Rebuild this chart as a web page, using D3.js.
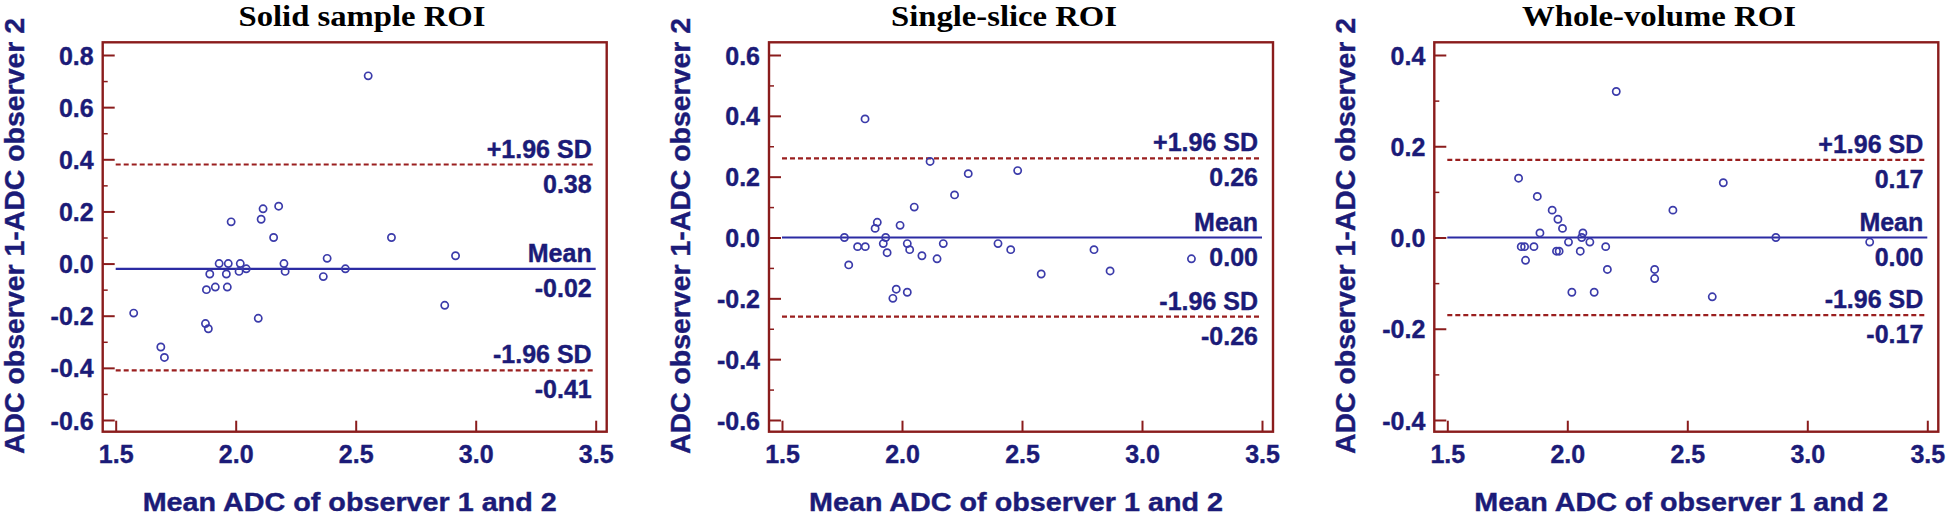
<!DOCTYPE html>
<html>
<head>
<meta charset="utf-8">
<script src="https://cdn.jsdelivr.net/npm/d3@7"></script>
<style>
  html, body { margin: 0; padding: 0; background: #fff; }
  svg { display: block; }
</style>
</head>
<body>
<svg id="chart" width="1946" height="517"></svg>
<script>
// ---------------- DATA ----------------
const titles = ["Solid sample ROI", "Single-slice ROI", "Whole-volume ROI"];
const xAxisTitle = "Mean ADC of observer 1 and 2";
const yAxisTitle = "ADC observer 1-ADC observer 2";
const xTicks = [1.5, 2.0, 2.5, 3.0, 3.5];

const yTicksSolid = [-0.6, -0.4, -0.2, 0.0, 0.2, 0.4, 0.6, 0.8];
const yMinorSolid = [-0.5, -0.3, -0.1, 0.1, 0.3, 0.5, 0.7];
const yTicksSlice = [-0.6, -0.4, -0.2, 0.0, 0.2, 0.4, 0.6];
const yMinorSlice = [-0.5, -0.3, -0.1, 0.1, 0.3, 0.5];
const yTicksWhole = [-0.4, -0.2, 0.0, 0.2, 0.4];
const yMinorWhole = [-0.3, -0.1, 0.1, 0.3];

const solidX = [1.575, 1.688, 1.703, 1.874, 1.886, 1.878, 1.915, 1.892, 1.931, 1.969,
                1.961, 1.965, 2.019, 2.014, 2.044, 1.981, 2.094, 2.106, 2.114, 2.179,
                2.158, 2.201, 2.206, 2.365, 2.381, 2.457, 2.552, 2.649, 2.871, 2.916];
const solidY = [-0.19, -0.32, -0.36, -0.23, -0.25, -0.10, -0.09, -0.04, 0.00, 0.00,
                -0.04, -0.09, 0.00, -0.03, -0.02, 0.16, -0.21, 0.17, 0.21, 0.22,
                0.10, 0.00, -0.03, -0.05, 0.02, -0.02, 0.72, 0.10, -0.16, 0.03];

const sliceX = [1.760, 1.778, 1.815, 1.847, 1.846, 1.888, 1.897, 1.922, 1.932, 1.938,
                1.962, 1.976, 1.992, 2.022, 2.022, 2.032, 2.051, 2.083, 2.117, 2.146,
                2.172, 2.219, 2.276, 2.400, 2.453, 2.482, 2.580, 2.800, 2.867, 3.206];
const sliceY = [0.00, -0.09, -0.03, -0.03, 0.39, 0.03, 0.05, -0.02, 0.00, -0.05,
                -0.20, -0.17, 0.04, -0.02, -0.18, -0.04, 0.10, -0.06, 0.25, -0.07,
                -0.02, 0.14, 0.21, -0.02, -0.04, 0.22, -0.12, -0.04, -0.11, -0.07];

const wholeX = [1.797, 1.808, 1.822, 1.826, 1.861, 1.875, 1.886, 1.937, 1.955, 1.961,
                1.966, 1.980, 2.005, 2.019, 2.054, 2.060, 2.065, 2.094, 2.112, 2.160,
                2.167, 2.204, 2.364, 2.364, 2.440, 2.604, 2.650, 2.869, 3.260];
const wholeY = [0.13, -0.02, -0.02, -0.05, -0.02, 0.09, 0.01, 0.06, -0.03, 0.04,
                -0.03, 0.02, -0.01, -0.12, -0.03, 0.00, 0.01, -0.01, -0.12, -0.02,
                -0.07, 0.32, -0.07, -0.09, 0.06, -0.13, 0.12, 0.00, -0.01];

const meanValues = [-0.02, 0.00, 0.00];
const upperLoA = [0.38, 0.26, 0.17];
const lowerLoA = [-0.41, -0.26, -0.17];
const upperLabel = "+1.96 SD", meanLabel = "Mean", lowerLabel = "-1.96 SD";

// ---------------- LAYOUT ----------------
const frameLefts = [102.7, 769, 1434.3];
const frameW = 504, frameTop = 42.3, frameBottom = 431.7;
const titleCenters = [362, 1004, 1659];
const titleWidths = [247, 226, 274];

const NAVY = "#1b1b78";
const FRAME = "#8a1c1c";
const DASH = "#9a1f1f";
const MEANC = "#2b2ba3";
const PT = "#3b3baa";
const SANS = "'Liberation Sans', Arial, Helvetica, sans-serif";
const SERIF = "'Liberation Serif', 'Times New Roman', serif";

const panels = [
  {xs: solidX, ys: solidY, major: yTicksSolid, minor: yMinorSolid},
  {xs: sliceX, ys: sliceY, major: yTicksSlice, minor: yMinorSlice},
  {xs: wholeX, ys: wholeY, major: yTicksWhole, minor: yMinorWhole}
];

const svg = d3.select("#chart");
const fmt1 = d => d.toFixed(1);
const fmt2 = d => (Math.abs(d) < 1e-9 ? 0 : d).toFixed(2);

function sansText(sel, size) {
  return sel.attr("fill", NAVY)
    .attr("stroke", NAVY).attr("stroke-width", 0.4)
    .style("font-family", SANS).style("font-weight", "bold").style("font-size", size);
}

panels.forEach((p, i) => {
  const fl = frameLefts[i];
  const g = svg.append("g");
  const x = d3.scaleLinear().domain([1.5, 3.5]).range([fl + 13, fl + 493]);
  const y = d3.scaleLinear().domain([p.major[0], p.major[p.major.length - 1]]).range([420, 55]);

  // title
  g.append("text")
    .attr("x", titleCenters[i]).attr("y", 26)
    .attr("text-anchor", "middle")
    .attr("textLength", titleWidths[i]).attr("lengthAdjust", "spacingAndGlyphs")
    .style("font-family", SERIF).style("font-weight", "bold").style("font-size", "29px")
    .attr("fill", "#000")
    .text(titles[i]);

  // minor y ticks
  const yMinorAxis = d3.axisLeft(y).tickValues(p.minor).tickSize(-5).tickFormat("");
  const gMin = g.append("g").attr("transform", `translate(${fl},0)`).call(yMinorAxis);
  gMin.select(".domain").remove();
  gMin.selectAll("line").attr("stroke", FRAME).attr("stroke-width", 1.5);

  // major y ticks
  const yAxis = d3.axisLeft(y).tickValues(p.major).tickSize(-12).tickPadding(9).tickFormat(fmt1);
  const gy = g.append("g").attr("transform", `translate(${fl},0)`).call(yAxis);
  gy.select(".domain").remove();
  gy.selectAll("line").attr("stroke", FRAME).attr("stroke-width", 2);
  sansText(gy.selectAll("text").attr("dy", "0.36em"), "25px");

  // x ticks
  const xAxis = d3.axisBottom(x).tickValues(xTicks).tickSize(-11).tickPadding(14).tickFormat(fmt1);
  const gx = g.append("g").attr("transform", `translate(0,${frameBottom})`).call(xAxis);
  gx.select(".domain").remove();
  gx.selectAll("line").attr("stroke", FRAME).attr("stroke-width", 2);
  sansText(gx.selectAll("text"), "25px");

  // frame
  g.append("rect")
    .attr("x", fl).attr("y", frameTop)
    .attr("width", frameW).attr("height", frameBottom - frameTop)
    .attr("fill", "none").attr("stroke", FRAME).attr("stroke-width", 2.4);

  // limits of agreement (dashed)
  [upperLoA[i], lowerLoA[i]].forEach(v => {
    g.append("line")
      .attr("x1", x(1.5)).attr("x2", x(3.5))
      .attr("y1", y(v)).attr("y2", y(v))
      .attr("stroke", DASH).attr("stroke-width", 2.2)
      .attr("stroke-dasharray", "5,3");
  });
  // mean line
  g.append("line")
    .attr("x1", x(1.5)).attr("x2", x(3.5))
    .attr("y1", y(meanValues[i])).attr("y2", y(meanValues[i]))
    .attr("stroke", MEANC).attr("stroke-width", 2.2);

  // labels
  const lbls = [
    [upperLabel, upperLoA[i]],
    [meanLabel, meanValues[i]],
    [lowerLabel, lowerLoA[i]]
  ];
  lbls.forEach(([name, v]) => {
    sansText(g.append("text")
      .attr("x", x(3.5) - 4).attr("y", y(v) - 7)
      .attr("text-anchor", "end"), "25px")
      .text(name);
    sansText(g.append("text")
      .attr("x", x(3.5) - 4).attr("y", y(v) + 28)
      .attr("text-anchor", "end"), "25px")
      .text(fmt2(v));
  });

  // points
  g.append("g").selectAll("circle")
    .data(p.xs.map((d, k) => [d, p.ys[k]]))
    .join("circle")
    .attr("cx", d => x(d[0])).attr("cy", d => y(d[1]))
    .attr("r", 3.6)
    .attr("fill", "none").attr("stroke", PT).attr("stroke-width", 1.7);

  // y axis title
  const ycx = fl - 88, ycy = 236;
  sansText(g.append("text")
    .attr("transform", `translate(${ycx},${ycy}) rotate(-90)`)
    .attr("text-anchor", "middle").attr("dominant-baseline", "central")
    .attr("textLength", 436).attr("lengthAdjust", "spacingAndGlyphs"), "27px")
    .text(yAxisTitle);

  // x axis title
  sansText(g.append("text")
    .attr("x", fl + frameW / 2 - 5).attr("y", 511)
    .attr("text-anchor", "middle")
    .attr("textLength", 414).attr("lengthAdjust", "spacingAndGlyphs"), "26px")
    .text(xAxisTitle);
});
</script>
</body>
</html>
